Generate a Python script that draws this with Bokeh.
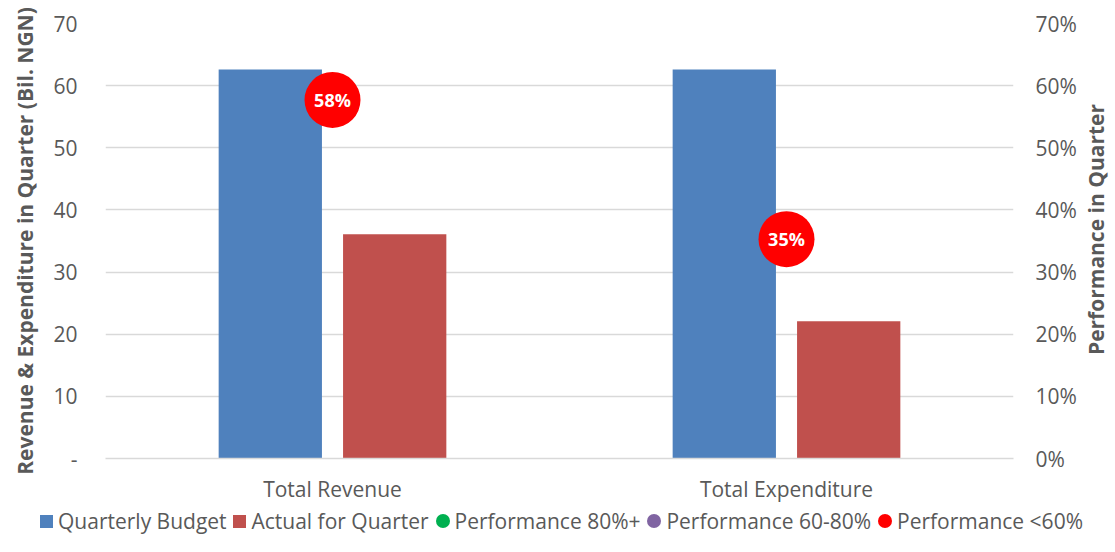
from bokeh.plotting import figure
from bokeh.layouts import column, row
from bokeh.models import (ColumnDataSource, FactorRange, Range1d, LinearAxis, FixedTicker,
                          NumeralTickFormatter, Div)
from bokeh.transform import dodge
from bokeh.core.properties import value
from bokeh.embed import file_html
from bokeh.resources import INLINE

NAN = float("nan")
categories = ["Total Revenue", "Total Expenditure"]
budget = [62.6, 62.6]
actual = [36.1, 22.1]
performance = [0.577, 0.353]
performance_labels = ["58%", "35%"]
# performance split by band (blank where the value is outside the band)
perf_80_plus = [NAN, NAN]
perf_60_80 = [NAN, NAN]
perf_below_60 = [0.577, 0.353]
left_ticks = [0, 10, 20, 30, 40, 50, 60, 70]
right_ticks = [0, 0.1, 0.2, 0.3, 0.4, 0.5, 0.6, 0.7]
legend_labels = ["Quarterly Budget", "Actual for Quarter", "Performance 80%+",
                 "Performance 60-80%", "Performance <60%"]
legend_shapes = ["square", "square", "circle", "circle", "circle"]

BLUE = "#4f81bd"
RED = "#c0504d"
GREEN = "#00b050"
PURPLE = "#8064a2"
BRIGHT_RED = "#ff0000"
legend_colors = [BLUE, RED, GREEN, PURPLE, BRIGHT_RED]
TEXT = "#595959"
GRID = "#d9d9d9"
FONT = "Open Sans"

src = ColumnDataSource(dict(cat=categories, budget=budget, actual=actual,
                            perf=performance, label=performance_labels,
                            hi=perf_80_plus, mid=perf_60_80, lo=perf_below_60))

p = figure(x_range=FactorRange(*categories), y_range=Range1d(0, 70),
           width=1085, height=506, output_backend="svg", toolbar_location=None,
           min_border_left=105, min_border_right=72, min_border_top=23, min_border_bottom=48)
p.outline_line_color = None
p.extra_y_ranges = {"pct": Range1d(0, 0.7)}

p.vbar(x=dodge("cat", -0.137, range=p.x_range), top="budget", width=0.2275,
       source=src, fill_color=BLUE, line_color=None)
p.vbar(x=dodge("cat", 0.137, range=p.x_range), top="actual", width=0.2275,
       source=src, fill_color=RED, line_color=None)

for col, color in (("hi", GREEN), ("mid", PURPLE), ("lo", BRIGHT_RED)):
    p.scatter(x="cat", y=col, source=src, y_range_name="pct", size=56,
              fill_color=color, line_color=None)

p.text(x="cat", y="perf", text="label", source=src, y_range_name="pct",
       text_align="center", text_baseline="middle", text_color="white",
       text_font=value(FONT), text_font_style="bold", text_font_size="18px")

# left axis
yl = p.yaxis[0]
yl.ticker = FixedTicker(ticks=left_ticks)
yl.major_label_overrides = {0: "-"}
yl.axis_label = "Revenue & Expenditure in Quarter (Bil. NGN)"
yl.axis_line_color = None
yl.major_tick_line_color = None
yl.minor_tick_line_color = None
yl.major_tick_out = 0
yl.major_label_standoff = 28
yl.axis_label_standoff = 11
yl.major_label_text_font = FONT
yl.major_label_text_font_size = "21px"
yl.major_label_text_color = TEXT
yl.axis_label_text_font = FONT
yl.axis_label_text_font_size = "21px"
yl.axis_label_text_font_style = "bold"
yl.axis_label_text_color = TEXT

# right axis (title drawn alongside, reading bottom-to-top)
yr = LinearAxis(y_range_name="pct", ticker=FixedTicker(ticks=right_ticks),
                formatter=NumeralTickFormatter(format="0%"))
yr.axis_line_color = None
yr.major_tick_line_color = None
yr.minor_tick_line_color = None
yr.major_tick_out = 0
yr.major_label_standoff = 22
yr.major_label_text_font = FONT
yr.major_label_text_font_size = "21px"
yr.major_label_text_color = TEXT
p.add_layout(yr, "right")

# x axis
xa = p.xaxis[0]
xa.axis_line_color = GRID
xa.axis_line_width = 1.5
xa.major_tick_line_color = None
xa.minor_tick_line_color = None
xa.major_tick_out = 0
xa.major_label_standoff = 16
xa.major_label_text_font = FONT
xa.major_label_text_font_size = "21px"
xa.major_label_text_color = TEXT

p.xgrid.grid_line_color = None
p.ygrid.grid_line_color = GRID
p.ygrid.grid_line_width = 1.5

right_title = Div(
    text=("<div style=\"width:22px;height:460px;display:flex;align-items:center;"
          "justify-content:center;\"><span style=\"writing-mode:vertical-rl;"
          "transform:rotate(180deg);white-space:nowrap;font-family:'Open Sans';"
          "font-weight:bold;font-size:21px;color:%s;\">Performance in Quarter</span></div>") % TEXT,
    width=22, height=460, margin=0)

items_html = []
for lab, shape, color in zip(legend_labels, legend_shapes, legend_colors):
    radius = "50%" if shape == "circle" else "0"
    size = 14 if shape == "circle" else 13
    items_html.append(
        "<span style=\"display:flex;align-items:center;\">"
        "<span style=\"display:inline-block;width:%dpx;height:%dpx;background:%s;"
        "border-radius:%s;margin-right:5px;\"></span>%s</span>"
        % (size, size, color, radius, lab.replace("<", "&lt;")))
legend_div = Div(
    text=("<div style=\"display:flex;align-items:center;justify-content:space-between;"
          "width:1043px;margin-left:40px;height:30px;white-space:nowrap;"
          "font-family:'Open Sans';font-size:21px;color:%s;\">%s</div>")
         % (TEXT, "".join(items_html)),
    width=1085, height=30, margin=0)

page = row(column(p, legend_div, spacing=0), right_title, spacing=0)
open("out.html", "w").write(file_html(page, INLINE))
